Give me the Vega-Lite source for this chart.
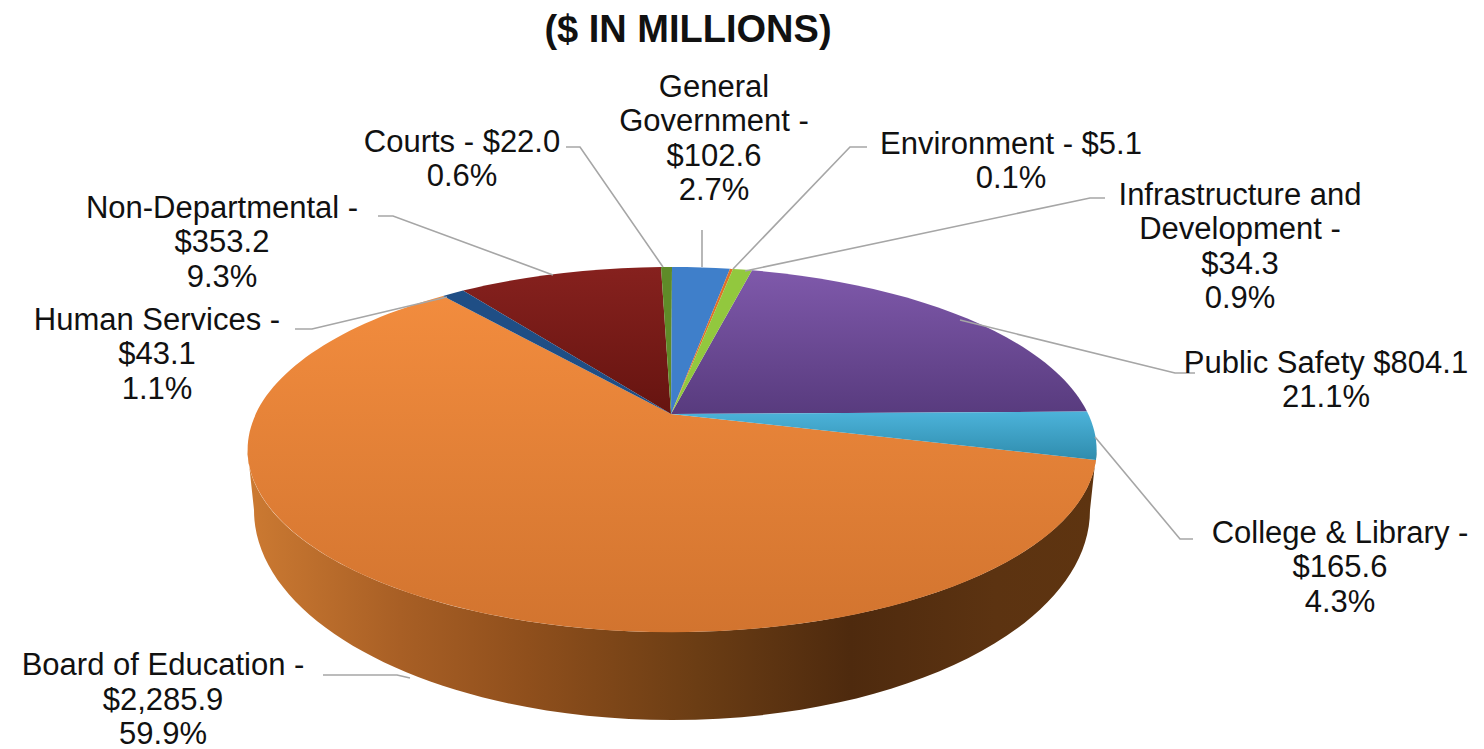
{
"$schema":"https://vega.github.io/schema/vega-lite/v6.json",
"width":1484,"height":749,"padding":0,"autosize":{"type":"none"},
"background":"white",
"title":{"text":"($ IN MILLIONS)","font":"Liberation Sans","fontSize":38,"fontWeight":"bold","color":"#111111","anchor":"middle","dx":-54,"offset":-50},
"config":{"view":{"stroke":null}},
"data":{"values":[
{"category":"Board of Education","value":2285.9,"pct":59.9,"label":"Board of Education -\n$2,285.9\n59.9%"},
{"category":"Human Services","value":43.1,"pct":1.1,"label":"Human Services -\n$43.1\n1.1%"},
{"category":"Non-Departmental","value":353.2,"pct":9.3,"label":"Non-Departmental  -\n$353.2\n9.3%"},
{"category":"Courts","value":22.0,"pct":0.6,"label":"Courts - $22.0\n0.6%"},
{"category":"General Government","value":102.6,"pct":2.7,"label":"General\nGovernment  -\n$102.6\n2.7%"},
{"category":"Environment","value":5.1,"pct":0.1,"label":"Environment  - $5.1\n0.1%"},
{"category":"Infrastructure and Development","value":34.3,"pct":0.9,"label":"Infrastructure and\nDevelopment -\n$34.3\n0.9%"},
{"category":"Public Safety","value":804.1,"pct":21.1,"label":"Public Safety $804.1\n21.1%"},
{"category":"College & Library","value":165.6,"pct":4.3,"label":"College & Library -\n$165.6\n4.3%"}
]},
"layer":[
{"transform":[{"filter":"datum.category === 'Board of Education'"}],
 "mark":{"type":"point","filled":true,"opacity":1,"size":4,"strokeWidth":0,
  "shape":"M-494.5,75 A424.5,182.5 0 0 0 354.5,75 L348,135.5 A418,210 0 0 1 -488,135.5 Z",
  "color":{"gradient":"linear","x1":0,"y1":0,"x2":1,"y2":0,"stops":[{"offset":0,"color":"#cc7a32"},{"offset":0.18,"color":"#a85f25"},{"offset":0.33,"color":"#8f4f1c"},{"offset":0.53,"color":"#6b3d14"},{"offset":0.71,"color":"#4e2a0e"},{"offset":0.88,"color":"#5c3311"},{"offset":1,"color":"#5e3410"}]}},
 "encoding":{}},
{"transform":[{"filter":"datum.category === 'Board of Education'"}],
 "mark":{"type":"point","filled":true,"opacity":1,"size":4,"strokeWidth":0,
  "shape":"M-71,39.5 L354,85.5 A424.5,182.5 0 1 1 -299,-78.5 Z",
  "color":{"gradient":"linear","x1":0,"y1":0,"x2":0,"y2":1,"stops":[{"offset":0,"color":"#f28c3e"},{"offset":1,"color":"#d2742f"}]}},
 "encoding":{}},
{"transform":[{"filter":"datum.category === 'Non-Departmental'"}],
 "mark":{"type":"point","filled":true,"opacity":1,"size":4,"strokeWidth":0,
  "shape":"M-71,39.5 L-279,-83.9 A424.5,182.5 0 0 1 -81,-107.5 Z",
  "color":{"gradient":"linear","x1":0,"y1":0,"x2":0,"y2":1,"stops":[{"offset":0,"color":"#86211e"},{"offset":1,"color":"#661410"}]}},
 "encoding":{}},
{"transform":[{"filter":"datum.category === 'Public Safety'"}],
 "mark":{"type":"point","filled":true,"opacity":1,"size":4,"strokeWidth":0,
  "shape":"M-71,39.5 L10,-104.2 A424.5,182.5 0 0 1 345,37 Z",
  "color":{"gradient":"linear","x1":0,"y1":0,"x2":0,"y2":1,"stops":[{"offset":0,"color":"#7f59ab"},{"offset":1,"color":"#583b7e"}]}},
 "encoding":{}},
{"transform":[{"filter":"datum.category === 'College & Library'"}],
 "mark":{"type":"point","filled":true,"opacity":1,"size":4,"strokeWidth":0,
  "shape":"M-71,39.5 L345,37 A424.5,182.5 0 0 1 354,85.5 Z",
  "color":{"gradient":"linear","x1":0,"y1":0,"x2":0,"y2":1,"stops":[{"offset":0,"color":"#4cb3da"},{"offset":1,"color":"#2f8cad"}]}},
 "encoding":{}},
{"transform":[{"filter":{"field":"category","oneOf":["Human Services","Courts","General Government","Environment","Infrastructure and Development"]}}],
 "mark":{"type":"point","filled":true,"opacity":1,"size":4,"strokeWidth":0},
 "encoding":{
  "shape":{"field":"category","type":"nominal","legend":null,"scale":{
   "domain":["Human Services","Courts","General Government","Environment","Infrastructure and Development"],
   "range":[
    "M-71,39.5 L-299,-78.5 A424.5,182.5 0 0 1 -279,-83.9 Z",
    "M-71,39.5 L-81,-107.5 A424.5,182.5 0 0 1 -70,-107.5 Z",
    "M-71,39.5 L-70,-107.5 A424.5,182.5 0 0 1 -12,-105.8 Z",
    "M-71,39.5 L-12,-105.8 A424.5,182.5 0 0 1 -9,-105.5 Z",
    "M-71,39.5 L-9,-105.5 A424.5,182.5 0 0 1 10,-104.2 Z"]}},
  "color":{"field":"category","type":"nominal","legend":null,"scale":{
   "domain":["Human Services","Courts","General Government","Environment","Infrastructure and Development"],
   "range":["#1f4e85","#5f8b28","#3f7fca","#e0702a","#92c83e"]}}
 }},
{"mark":{"type":"point","filled":false,"opacity":1,"size":4,"color":"#a6a6a6","strokeWidth":1.6},
 "encoding":{
  "shape":{"field":"value","type":"nominal","legend":null,"scale":{
   "domain":[22.0,102.6,5.1,34.3,804.1,165.6,2285.9,43.1,353.2],
   "range":[
    "M-176,-227.5 L-162,-227.5 L-79,-107.5",
    "M-40,-144.5 L-40,-107.5",
    "M125,-227.5 L108,-227.5 L-9,-105.5",
    "M363,-176.5 L348,-176.5 L3,-103.5",
    "M453,-1.5 L433,-1.5 L218,-54.5",
    "M353,62.5 L438,164.5 L451,164.5",
    "M-419,300.5 L-345,300.5 L-332,303.5",
    "M-447,-45.5 L-430,-45.5 L-295,-77.5",
    "M-364,-158.5 L-349,-158.5 L-189,-99.5"]}}
 }},
{"mark":{"type":"text","font":"Liberation Sans","fontSize":31,"color":"#111111","align":"center","baseline":"top","lineBreak":"\n","lineHeight":34.5},
 "encoding":{
  "text":{"field":"label","type":"nominal"},
  "x":{"field":"value","type":"quantitative","axis":null,"scale":{"domain":[5.1,22.0,34.3,43.1,102.6,165.6,353.2,804.1,2285.9],"range":[1011,462,1240,157,714,1340,222,1326,163],"nice":false,"zero":false}},
  "y":{"field":"value","type":"quantitative","axis":null,"scale":{"domain":[5.1,22.0,34.3,43.1,102.6,165.6,353.2,804.1,2285.9],"range":[129.5,127.5,180.5,305.5,72.5,518.5,193.5,348.5,651],"nice":false,"zero":false}}
 }}
],
"resolve":{"scale":{"shape":"independent"}}
}
